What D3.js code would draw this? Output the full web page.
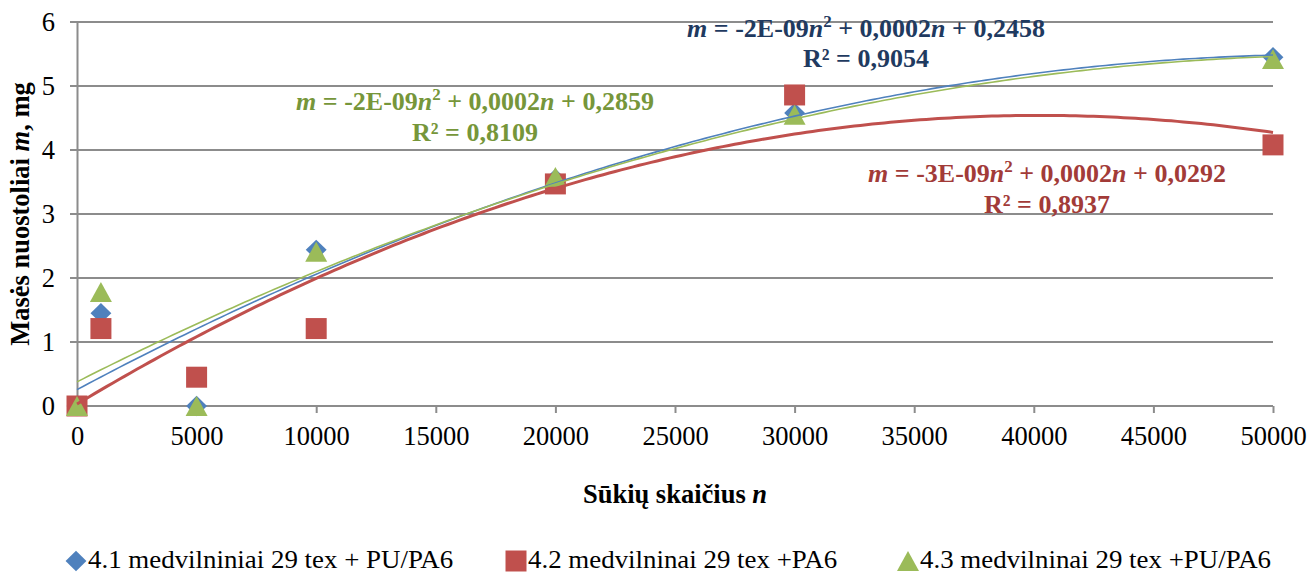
<!DOCTYPE html>
<html>
<head>
<meta charset="utf-8">
<script src="https://cdn.jsdelivr.net/npm/d3@7"></script>
<style>
  html, body { margin: 0; padding: 0; background: #fff; }
  svg { display: block; font-family: "Liberation Serif", "Times New Roman", serif; }
</style>
</head>
<body>
<svg id="chart" width="1309" height="573"></svg>
<script>
// Number of rub cycles n
const cycles = [0, 1000, 5000, 10000, 20000, 30000, 50000];

// Mass loss m, mg, per fabric variant
const loss41 = [0, 1.45, 0, 2.44, 3.55, 4.58, 5.45];
const loss42 = [0, 1.21, 0.45, 1.21, 3.47, 4.86, 4.08];
const loss43 = [0, 1.78, 0, 2.41, 3.58, 4.55, 5.42];

const seriesNames = [
  "4.1 medvilniniai 29 tex + PU/PA6",
  "4.2 medvilninai 29 tex +PA6",
  "4.3 medvilninai 29 tex +PU/PA6"
];
const seriesColors = ["#4F81BD", "#C0504D", "#9BBB59"];
const labelColors = ["#1F3A60", "#A23B38", "#76963A"];

const xTicks = [0, 5000, 10000, 15000, 20000, 25000, 30000, 35000, 40000, 45000, 50000];
const yTicks = [0, 1, 2, 3, 4, 5, 6];

// Trendline equation labels: [a-term, b-term, c-term, R²]
const eqTexts = [
  ["-2E-09", "0,0002", "0,2458", "0,9054"],
  ["-3E-09", "0,0002", "0,0292", "0,8937"],
  ["-2E-09", "0,0002", "0,2859", "0,8109"]
];

const svg = d3.select("#chart");
const x = d3.scaleLinear().domain([0, 50000]).range([77, 1273]);
const y = d3.scaleLinear().domain([0, 6]).range([406, 22]);
const FONT = "Liberation Serif, Times New Roman, serif";

// Horizontal gridlines
svg.append("g").selectAll("line").data(yTicks).join("line")
  .attr("x1", 70).attr("x2", x(50000))
  .attr("y1", d => y(d)).attr("y2", d => y(d))
  .attr("stroke", "#8c8c8c").attr("stroke-width", 2);

// Y axis
const yAxis = svg.append("g").attr("transform", `translate(${x(0)},0)`)
  .call(d3.axisLeft(y).tickValues(yTicks).tickSize(0).tickPadding(22).tickFormat(d3.format("d")));
yAxis.select(".domain").attr("stroke", "#8c8c8c").attr("stroke-width", 2);
yAxis.selectAll("text").attr("font-size", 26.5).attr("fill", "#000").attr("font-family", FONT);

// X axis
const xAxis = svg.append("g").attr("transform", `translate(0,${y(0)})`)
  .call(d3.axisBottom(x).tickValues(xTicks).tickSize(7).tickPadding(13).tickFormat(d3.format("d")));
xAxis.select(".domain").remove();
xAxis.selectAll("line").attr("stroke", "#8c8c8c").attr("stroke-width", 2);
xAxis.selectAll("text").attr("font-size", 26.5).attr("fill", "#000").attr("font-family", FONT);

// Axis titles
svg.append("text").attr("x", 675).attr("y", 503).attr("text-anchor", "middle")
  .attr("font-size", 26.5).attr("font-weight", "bold")
  .call(t => {
    t.append("tspan").text("Sūkių skaičius ");
    t.append("tspan").attr("font-style", "italic").text("n");
  });
svg.append("text").attr("transform", "translate(29,214) rotate(-90)").attr("text-anchor", "middle")
  .attr("font-size", 26.5).attr("font-weight", "bold")
  .call(t => {
    t.append("tspan").text("Masės nuostoliai ");
    t.append("tspan").attr("font-style", "italic").text("m");
    t.append("tspan").text(", mg");
  });

// Marker shapes, centred on their bounding box
const diamondType = {
  draw(ctx, size) {
    const w = Math.sqrt(size) * 0.72, h = Math.sqrt(size) * 0.7;
    ctx.moveTo(0, -h); ctx.lineTo(w, 0); ctx.lineTo(0, h); ctx.lineTo(-w, 0); ctx.closePath();
  }
};
const triangleType = {
  draw(ctx, size) {
    const w = Math.sqrt(size) * 0.75, h = Math.sqrt(size) * 0.68;
    ctx.moveTo(0, -h); ctx.lineTo(w, h); ctx.lineTo(-w, h); ctx.closePath();
  }
};
const symbols = [
  d3.symbol().type(diamondType).size(210),
  d3.symbol().type(d3.symbolSquare).size(441),
  d3.symbol().type(triangleType).size(215)
];
function marker(sel, i) {
  return sel.append("path").attr("d", symbols[i]()).attr("fill", seriesColors[i]);
}

const allSeries = [loss41, loss42, loss43];

// Data markers
allSeries.forEach((vals, i) => {
  const g = svg.append("g");
  vals.forEach((v, k) => {
    marker(g.append("g").attr("transform", `translate(${x(cycles[k])},${y(v)})`), i);
  });
});

// Least-squares quadratic fit (n scaled to 10^4 for stability)
function quadFit(xs, ys) {
  const s = 1e4;
  const S = [0, 0, 0, 0, 0], T = [0, 0, 0];
  xs.forEach((xv, k) => {
    const u = xv / s;
    for (let p = 0; p < 5; p++) S[p] += Math.pow(u, p);
    for (let p = 0; p < 3; p++) T[p] += ys[k] * Math.pow(u, p);
  });
  const A = [[S[0], S[1], S[2], T[0]], [S[1], S[2], S[3], T[1]], [S[2], S[3], S[4], T[2]]];
  for (let c = 0; c < 3; c++) {
    for (let r = c + 1; r < 3; r++) {
      const f = A[r][c] / A[c][c];
      for (let k = c; k < 4; k++) A[r][k] -= f * A[c][k];
    }
  }
  const sol = [0, 0, 0];
  for (let r = 2; r >= 0; r--) {
    let v = A[r][3];
    for (let k = r + 1; k < 3; k++) v -= A[r][k] * sol[k];
    sol[r] = v / A[r][r];
  }
  return n => sol[0] + sol[1] * (n / s) + sol[2] * (n / s) * (n / s);
}

// Trendlines drawn over the markers
const widths = [1.6, 3, 1.6];
const line = d3.line().x(d => x(d[0])).y(d => y(d[1]));
allSeries.forEach((vals, i) => {
  const f = quadFit(cycles, vals);
  const pts = d3.range(0, 50001, 250).map(n => [n, f(n)]);
  svg.append("path").datum(pts).attr("d", line)
    .attr("fill", "none").attr("stroke", seriesColors[i]).attr("stroke-width", widths[i]);
});

// Equation labels
const eqPos = [[866, 37, 67], [1047, 182, 213], [475, 110, 141]];
eqTexts.forEach((e, i) => {
  const [cx, y1, y2] = eqPos[i];
  const t = svg.append("text").attr("x", cx).attr("y", y1).attr("text-anchor", "middle")
    .attr("font-size", 26).attr("font-weight", "bold").attr("fill", labelColors[i]);
  t.append("tspan").attr("font-style", "italic").text("m");
  t.append("tspan").text(` = ${e[0]}`);
  t.append("tspan").attr("font-style", "italic").text("n");
  t.append("tspan").attr("font-size", 17).attr("dy", -10).text("2");
  t.append("tspan").attr("dy", 10).text(` + ${e[1]}`);
  t.append("tspan").attr("font-style", "italic").text("n");
  t.append("tspan").text(` + ${e[2]}`);
  svg.append("text").attr("x", cx).attr("y", y2).attr("text-anchor", "middle")
    .attr("font-size", 26).attr("font-weight", "bold").attr("fill", labelColors[i])
    .text(`R² = ${e[3]}`);
});

// Legend: marker followed by a slightly widened label
const stretch = 1.035;
const legendCentres = [76, 516, 908];
seriesNames.forEach((name, i) => {
  const g = svg.append("g").attr("transform", `translate(${legendCentres[i]},561)`);
  marker(g, i);
  g.append("text").attr("transform", `translate(12,7) scale(${stretch},1)`)
    .attr("font-size", 26).attr("fill", "#000").text(name);
});
</script>
</body>
</html>
